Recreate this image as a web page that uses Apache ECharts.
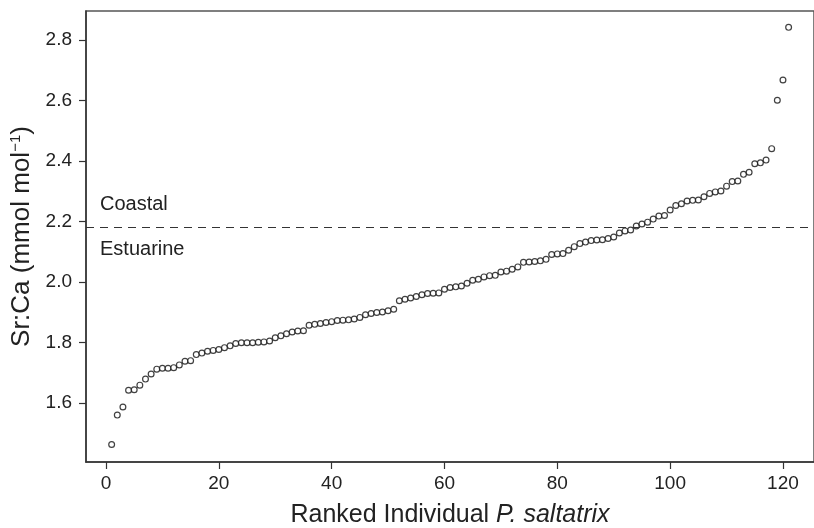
<!DOCTYPE html>
<html>
<head>
<meta charset="utf-8">
<script src="https://cdn.jsdelivr.net/npm/echarts@6/dist/echarts.min.js"></script>
<style>html,body{margin:0;padding:0;background:#fff}#c{width:814px;height:528px}</style>
</head>
<body>
<div id="c"></div>
<script>
// Ranked Sr:Ca values (mmol mol^-1), individuals 1..121
const ranks = [];
const srca = [
1.463,1.560,1.587,1.642,1.644,1.659,1.679,1.696,1.712,1.715,
1.715,1.717,1.726,1.738,1.740,1.760,1.765,1.771,1.774,1.777,
1.783,1.789,1.797,1.799,1.799,1.799,1.801,1.802,1.805,1.816,
1.822,1.829,1.835,1.838,1.839,1.857,1.860,1.863,1.866,1.869,
1.873,1.874,1.875,1.878,1.883,1.892,1.896,1.899,1.901,1.905,
1.910,1.938,1.943,1.947,1.952,1.958,1.962,1.963,1.964,1.976,
1.982,1.984,1.987,1.996,2.006,2.009,2.017,2.021,2.022,2.033,
2.036,2.042,2.050,2.065,2.066,2.068,2.070,2.075,2.091,2.093,
2.094,2.105,2.117,2.127,2.132,2.137,2.139,2.140,2.144,2.149,
2.162,2.169,2.172,2.185,2.192,2.198,2.208,2.218,2.220,2.238,
2.253,2.259,2.268,2.270,2.271,2.282,2.293,2.298,2.301,2.317,
2.332,2.334,2.356,2.363,2.391,2.394,2.403,2.441,2.601,2.668,
2.842
];
for (let i = 0; i < srca.length; i++) ranks.push(i + 1);
const xTicks = [0, 20, 40, 60, 80, 100, 120];
const yTicks = [1.6, 1.8, 2.0, 2.2, 2.4, 2.6, 2.8];
const threshold = 2.18;
const zoneLabels = ['Coastal', 'Estuarine'];

const points = ranks.map((r, i) => [r, srca[i]]);
const FONT = '"Liberation Sans", Arial, Helvetica, sans-serif';
const TXT = '#222';

const chart = echarts.init(document.getElementById('c'), null, {renderer: 'canvas'});
chart.setOption({
  animation: false,
  backgroundColor: '#fff',
  grid: {left: 86, top: 11, right: 0, bottom: 66, containLabel: false, outerBoundsMode: 'none',
         show: true, borderColor: '#555', borderWidth: 1.5, backgroundColor: 'transparent'},
  xAxis: {
    type: 'value', min: -3.545, max: 125.5,
    splitLine: {show: false},
    axisLine: {show: true, onZero: false, lineStyle: {color: '#333', width: 1.5}},
    axisTick: {show: true, length: 7, lineStyle: {color: '#333', width: 1.2}, customValues: xTicks},
    axisLabel: {customValues: xTicks, color: TXT, fontFamily: FONT, fontSize: 19, margin: 12},
    name: 'Ranked Individual {i|P. saltatrix}',
    nameLocation: 'middle', nameGap: 41, nameMoveOverlap: false,
    nameTextStyle: {color: TXT, fontFamily: FONT, fontSize: 25, rich: {i: {fontStyle: 'italic', fontFamily: FONT, fontSize: 25, color: TXT}}}
  },
  yAxis: {
    type: 'value', min: 1.405, max: 2.896,
    splitLine: {show: false},
    axisLine: {show: true, onZero: false, lineStyle: {color: '#333', width: 1.5}},
    axisTick: {show: true, length: 7, lineStyle: {color: '#333', width: 1.2}, customValues: yTicks},
    axisLabel: {customValues: yTicks, color: TXT, fontFamily: FONT, fontSize: 19, margin: 14, formatter: v => v.toFixed(1)},
    name: 'Sr:Ca (mmol mol{s|−1})',
    nameLocation: 'middle', nameGap: 51, nameRotate: 90, nameMoveOverlap: false,
    nameTextStyle: {color: TXT, fontFamily: FONT, fontSize: 26, rich: {s: {fontSize: 15, fontFamily: FONT, color: TXT, verticalAlign: 'top', padding: [0, 0, 12, 0]}}}
  },
  series: [{
    type: 'scatter',
    data: points,
    symbol: 'circle',
    symbolSize: 5.8,
    itemStyle: {color: '#fff', borderColor: '#111', borderWidth: 1.2},
    markLine: {
      silent: true, symbol: 'none',
      lineStyle: {type: [8, 6], color: '#333', width: 1.2},
      label: {show: false},
      data: [{yAxis: threshold}]
    }
  }]
});

// zone labels placed relative to the threshold line via the chart's own scales
function placeLabels() {
  const p = chart.convertToPixel({gridIndex: 0}, [-3.545, threshold]);
  const left = p[0] + 14;
  const y = p[1];
  chart.setOption({
    graphic: [
      {type: 'text', left: left, top: y - 33, style: {text: zoneLabels[0], fill: TXT, font: '20px ' + FONT}},
      {type: 'text', left: left, top: y + 12, style: {text: zoneLabels[1], fill: TXT, font: '20px ' + FONT}}
    ]
  });
}
placeLabels();
</script>
</body>
</html>
